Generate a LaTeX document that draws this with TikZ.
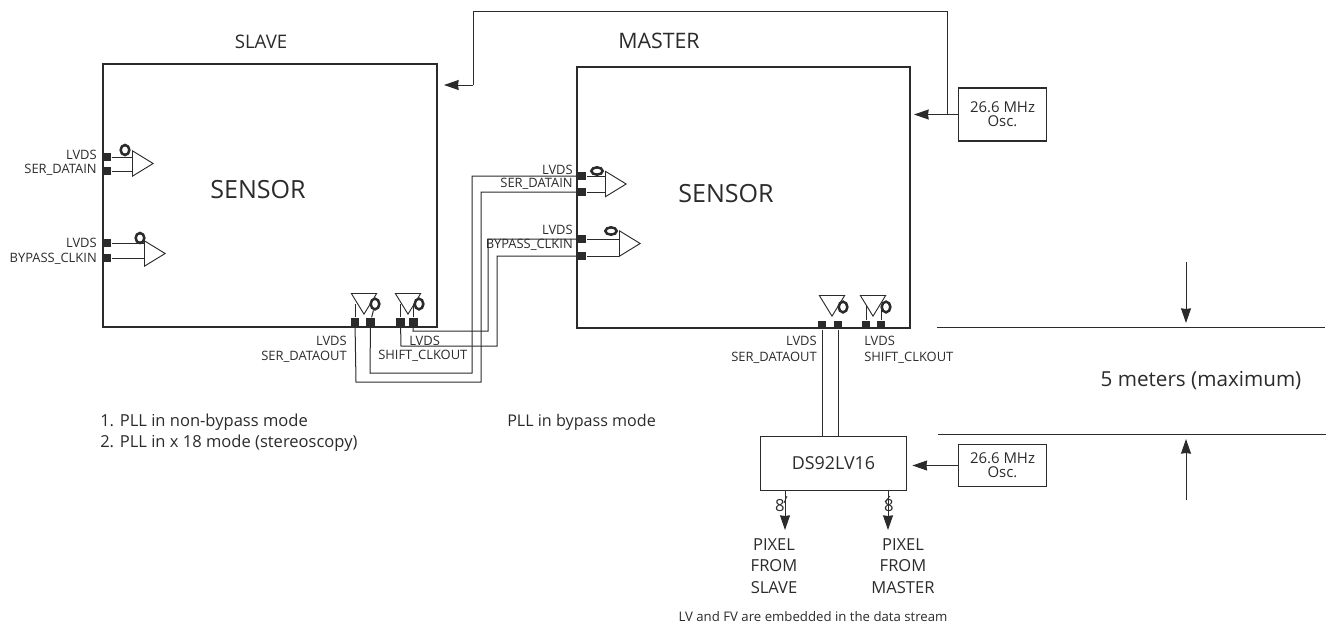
\documentclass[tikz,border=0pt]{standalone}
\usepackage{fontspec}
\setmainfont{Open Sans}
\usetikzlibrary{positioning,arrows.meta,shapes.geometric}
\definecolor{inkgray}{HTML}{2b2b2b}

\begin{document}
\begin{tikzpicture}[x=0.75pt,y=-0.75pt,
    every node/.style={text=inkgray},
    sensorbox/.style={draw=inkgray, line width=1.5pt, anchor=north west, inner sep=0pt},
    pad/.style={draw=none, fill=inkgray, minimum size=6.5pt, inner sep=0pt},
    wire/.style={draw=inkgray, line width=0.75pt},
    arrow/.style={draw=inkgray, line width=0.75pt, -{Stealth[length=11pt,width=7.5pt,inset=0.5pt]}},
    inbuf/.style={draw=inkgray, line width=0.7pt, isosceles triangle, isosceles triangle stretches, minimum height=15.5pt, minimum width=19pt, inner sep=0pt, anchor=lower side},
    outbuf/.style={inbuf, shape border rotate=-90},
    bubble/.style={draw=inkgray, line width=1.9pt, ellipse, minimum width=6.5pt, minimum height=7.5pt, inner sep=0pt},
    pinlabel/.style={font=\fontsize{9.7}{11}\selectfont, inner sep=0pt},
    oscbox/.style={draw=inkgray, align=center, font=\fontsize{11.2}{10.5}\selectfont, inner sep=0pt},
]
\useasboundingbox (0,0) rectangle (1328,625);

% sensors
\node[sensorbox, minimum width=250.5pt, minimum height=197.5pt] (slave) at (102,63) {};
\node[sensorbox, minimum width=249.75pt, minimum height=195.5pt] (master) at (576,66) {};
\node[font=\fontsize{14}{18}\selectfont] (slavetitle) at (261,42) {SLAVE};
\node[font=\fontsize{16}{18}\selectfont] (mastertitle) at (659,41) {MASTER};
\node[font=\fontsize{18.8}{22}\selectfont] (slavename) at (258,190) {SENSOR};
\node[font=\fontsize{18.8}{22}\selectfont] (mastername) at (726,194) {SENSOR};

% slave inputs
\node[pad] (sdinA) at (107,157) {};
\node[pad] (sdinB) at (107,171) {};
\node[pad] (sckinA) at (107,243) {};
\node[pad] (sckinB) at (107,258) {};
\node[inbuf] (sdinbuf) at (132,163.5) {};
\node[inbuf] (sckinbuf) at (144,253.5) {};
\node[bubble] (sdinbub) at (125,150) {};
\node[bubble] (sckinbub) at (140,238) {};
\draw[wire] (sdinA) -- (sdinA -| sdinbuf.lower side);
\draw[wire] (sdinB) -- (sdinB -| sdinbuf.lower side);
\draw[wire] (sckinA) -- (sckinA -| sckinbuf.lower side);
\draw[wire] (sckinB) -- (sckinB -| sckinbuf.lower side);
\node[pinlabel, anchor=east] (l1) at (97,155) {LVDS};
\node[pinlabel, anchor=east] (l2) at (97,170) {SER\_DATAIN};
\node[pinlabel, anchor=east] (l3) at (97,243) {LVDS};
\node[pinlabel, anchor=east] (l4) at (97,259) {BYPASS\_CLKIN};

% slave outputs
\node[pad] (sdoutA) at (355,322) {};
\node[pad] (sdoutB) at (370.5,322) {};
\node[pad] (sckoutA) at (400.5,322) {};
\node[pad] (sckoutB) at (413.5,322) {};
\node[outbuf] (sdoutbuf) at (364,293) {};
\node[outbuf] (sckoutbuf) at (408,293) {};
\node[bubble, minimum width=6.5pt, minimum height=8pt] (sdoutbub) at (375,304) {};
\node[bubble, minimum width=6.5pt, minimum height=8pt] (sckoutbub) at (419,304) {};
\node[pinlabel, anchor=east] (l5) at (347,341) {LVDS};
\node[pinlabel, anchor=east] (l6) at (347,357) {SER\_DATAOUT};
\node[pinlabel, anchor=west] (l7) at (409,341) {LVDS};
\node[pinlabel, anchor=west] (l8) at (378,356) {SHIFT\_CLKOUT};

% master inputs
\node[pad] (mdinA) at (582,176) {};
\node[pad] (mdinB) at (582,192) {};
\node[pad] (mckinA) at (582,239) {};
\node[pad] (mckinB) at (582,256) {};
\node[inbuf] (mdinbuf) at (605,184) {};
\node[inbuf] (mckinbuf) at (619,243.5) {};
\node[bubble, minimum width=8.5pt, minimum height=5.5pt] (mdinbub) at (597,171) {};
\node[bubble, minimum width=8.5pt, minimum height=5.5pt] (mckinbub) at (611,231) {};
\draw[wire] (mdinA) -- (mdinA -| mdinbuf.lower side);
\draw[wire] (mdinB) -- (mdinB -| mdinbuf.lower side);
\draw[wire] (mckinA) -- (mckinA -| mckinbuf.lower side);
\draw[wire] (mckinB) -- (mckinB -| mckinbuf.lower side);
\node[pinlabel, anchor=east] (l9) at (573,170) {LVDS};
\node[pinlabel, anchor=east] (l10) at (573,184) {SER\_DATAIN};
\node[pinlabel, anchor=east] (l11) at (573,230) {LVDS};
\node[pinlabel, anchor=east] (l12) at (573,245) {BYPASS\_CLKIN};

% master outputs
\node[pad] (modA) at (822,325) {};
\node[pad] (modB) at (838,325) {};
\node[pad] (mockA) at (866,325) {};
\node[pad] (mockB) at (881,325) {};
\node[outbuf] (modbuf) at (832,295) {};
\node[outbuf] (mockbuf) at (873,295) {};
\node[bubble, minimum width=6.5pt, minimum height=8pt] (modbub) at (843,307) {};
\node[bubble, minimum width=6.5pt, minimum height=8pt] (mockbub) at (886,307) {};
\node[pinlabel, anchor=east] (l13) at (817,341) {LVDS};
\node[pinlabel, anchor=east] (l14) at (817,358) {SER\_DATAOUT};
\node[pinlabel, anchor=west] (l15) at (864,341) {LVDS};
\node[pinlabel, anchor=west] (l16) at (864,358) {SHIFT\_CLKOUT};

% buffer stubs
\draw[wire] (sdoutA) -- (sdoutA |- sdoutbuf.left side);
\draw[wire] (sdoutB) -- (sdoutbub);
\draw[wire] (sckoutA) -- (sckoutA |- sckoutbuf.left side);
\draw[wire] (sckoutB) -- (sckoutB |- sckoutbub);
\draw[wire] (mockA) -- (mockA |- mockbuf.left side);
\draw[wire] (mockB) -- (mockB |- mockbub);

% cross links
\coordinate (turnA) at (356,382);
\coordinate (turnB) at (370,373);
\coordinate (turnC) at (401,346);
\coordinate (turnD) at (413,331);
\coordinate (riseA) at (481,382);
\coordinate (riseB) at (472,373);
\coordinate (riseC) at (497,346);
\coordinate (riseD) at (488,331);
\draw[wire] (sdoutA) -- (turnA) -- (riseA) |- (mdinB);
\draw[wire] (sdoutB) -- (turnB) -- (riseB) |- (mdinA);
\draw[wire] (sckoutA) -- (turnC) -- (riseC) |- (mckinB);
\draw[wire] (sckoutB) -- (turnD) -- (riseD) |- (mckinA);

% clocks
\node[oscbox, line width=1.3pt, minimum width=66pt, minimum height=40pt] (osctop) at (1002.5,114.5) {26.6 MHz\\Osc.};
\node[oscbox, line width=0.75pt, minimum width=66pt, minimum height=31pt] (oscbot) at (1002.5,465.5) {26.6 MHz\\Osc.};
\node[draw=inkgray, line width=0.9pt, minimum width=110pt, minimum height=41pt, inner sep=0pt, font=\fontsize{13.4}{15}\selectfont] (serdes) at (833.5,463.5) {DS92LV16};
\coordinate (tap) at (947,114.5);
\coordinate (turntop) at (473,11);
\coordinate (clkin) at (473,85);
\draw[arrow, shorten >=2.25pt] (osctop.west) -- (osctop.west -| master.east);
\draw[wire] (tap) |- (turntop) -- (clkin);
\draw[arrow, shorten >=4.5pt] (clkin) -- (clkin -| slave.east);
\draw[arrow, shorten >=3.75pt] (oscbot.west) -- (oscbot.west -| serdes.east);

% data to deserializer
\draw[wire] (modA) -- (modA |- serdes.north);
\draw[wire] (modB) -- (modB |- serdes.north);
\coordinate (outA) at (785,530);
\coordinate (outB) at (888,530);
\draw[arrow] (outA |- serdes.south) -- (outA);
\draw[arrow] (outB |- serdes.south) -- (outB);
\draw[wire, line width=0.6pt] (787,496) -- (784,503);
\draw[wire, line width=0.6pt] (890,496) -- (885,502);
\node[font=\fontsize{12.5}{14}\selectfont, inner sep=0pt] (busA) at (780,506) {8};
\node[font=\fontsize{12.5}{14}\selectfont, inner sep=0pt] (busB) at (889,506) {8};
\node[align=center, font=\fontsize{12.4}{16}\selectfont, inner sep=0pt] (pixA) at (774,566) {PIXEL\\FROM\\SLAVE};
\node[align=center, font=\fontsize{12.4}{16}\selectfont, inner sep=0pt] (pixB) at (903,566) {PIXEL\\FROM\\MASTER};
\node[font=\fontsize{9.9}{11}\selectfont, inner sep=0pt] (embedded) at (813,617) {LV and FV are embedded in the data stream};

% cable length
\coordinate (topL) at (937,327);
\coordinate (topR) at (1325,327);
\coordinate (botL) at (938,434);
\coordinate (botR) at (1326,434);
\coordinate (downS) at (1186,262);
\coordinate (downE) at (1186,323);
\coordinate (upS) at (1186,500);
\coordinate (upE) at (1186,439);
\draw[wire] (topL) -- (topR);
\draw[wire] (botL) -- (botR);
\draw[arrow] (downS) -- (downE);
\draw[arrow] (upS) -- (upE);
\node[font=\fontsize{15.5}{18}\selectfont, inner sep=0pt] (length) at (1201,381) {5 meters (maximum)};

% notes
\node[align=left, anchor=west, font=\fontsize{12.4}{15.8}\selectfont, inner sep=0pt] (slavenote) at (100,433) {1. PLL in non-bypass mode\\2. PLL in x 18 mode (stereoscopy)};
\node[anchor=west, font=\fontsize{12.1}{14}\selectfont, inner sep=0pt] (masternote) at (507,422) {PLL in bypass mode};
\end{tikzpicture}
\end{document}
